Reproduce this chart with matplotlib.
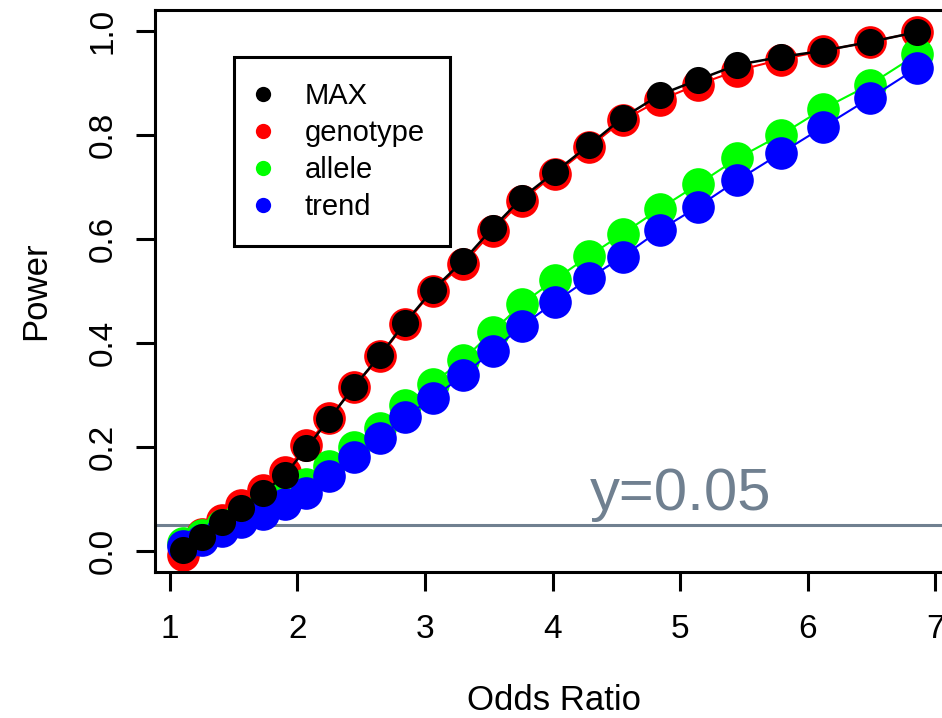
import matplotlib
matplotlib.use("Agg")
import matplotlib.pyplot as plt
from matplotlib.lines import Line2D

plt.rcParams["font.family"] = ["Liberation Sans", "DejaVu Sans"]

# odds ratios (x)
odds_ratio = [1.10, 1.25, 1.41, 1.56, 1.73, 1.90, 2.07, 2.25, 2.44, 2.65,
              2.84, 3.06, 3.30, 3.53, 3.76, 4.02, 4.29, 4.55, 4.84, 5.14,
              5.45, 5.79, 6.12, 6.49, 6.86]

power_max = [0.002, 0.027, 0.056, 0.083, 0.112, 0.146, 0.198, 0.254, 0.315, 0.377,
             0.438, 0.502, 0.558, 0.621, 0.679, 0.729, 0.781, 0.833, 0.877, 0.906,
             0.935, 0.950, 0.962, 0.979, 0.998]
power_genotype = [-0.008, 0.033, 0.060, 0.089, 0.118, 0.152, 0.204, 0.256, 0.315, 0.375,
                  0.436, 0.500, 0.552, 0.615, 0.674, 0.725, 0.777, 0.828, 0.867, 0.897,
                  0.924, 0.945, 0.962, 0.979, 0.998]
power_allele = [0.015, 0.030, 0.050, 0.068, 0.085, 0.105, 0.128, 0.163, 0.200, 0.236,
                0.280, 0.322, 0.368, 0.422, 0.475, 0.522, 0.568, 0.610, 0.658, 0.705,
                0.755, 0.800, 0.850, 0.897, 0.955]
power_trend = [0.010, 0.022, 0.038, 0.055, 0.072, 0.090, 0.112, 0.145, 0.180, 0.217,
               0.258, 0.294, 0.338, 0.385, 0.433, 0.479, 0.525, 0.566, 0.617, 0.662,
               0.713, 0.765, 0.815, 0.871, 0.929]

legend_labels = ["MAX", "genotype", "allele", "trend"]
legend_colors = ["black", "#ff0000", "#00ff00", "#0000ff"]
alpha_level = 0.05

fig = plt.figure(figsize=(9.42, 7.18), dpi=100)
ax = fig.add_axes([155 / 942, 146 / 718, 798 / 942, 562 / 718])

ax.axhline(alpha_level, color="#708090", linewidth=2.2, zorder=1)

big = 23.5
ax.plot(odds_ratio, power_genotype, "-o", color="#ff0000", lw=1.5, ms=big, mew=0, zorder=2)
ax.plot(odds_ratio, power_allele, "-o", color="#00ff00", lw=1.5, ms=big, mew=0, zorder=3)
ax.plot(odds_ratio, power_trend, "-o", color="#0000ff", lw=1.5, ms=big, mew=0, zorder=4)
ax.plot(odds_ratio, power_max, "-o", color="black", lw=1.8, ms=19.5, mew=0, zorder=5)

ax.text(4.29, 0.079, "y=0.05", color="#708090", fontsize=43, ha="left", va="baseline")

ax.set_xlim(0.8824, 7.141)
ax.set_ylim(-0.0404, 1.0404)
ax.set_xticks([1, 2, 3, 4, 5, 6, 7])
ax.set_yticks([0.0, 0.2, 0.4, 0.6, 0.8, 1.0])
ax.set_yticklabels(["0.0", "0.2", "0.4", "0.6", "0.8", "1.0"], rotation=90, va="center")

for s in ax.spines.values():
    s.set_linewidth(2.2)
ax.tick_params(width=2.2, length=14, labelsize=24)
ax.tick_params(axis="x", pad=16)
ax.tick_params(axis="y", pad=12)

ax.set_xlabel("Odds Ratio", fontsize=25, labelpad=28)
ax.set_ylabel("Power", fontsize=25, labelpad=26)

handles = [Line2D([], [], marker="o", linestyle="none", color=c, ms=11, mew=0)
           for c in legend_colors]
leg = ax.legend(handles, legend_labels, loc="upper left",
                bbox_to_anchor=(79 / 798, 1 - 47 / 562), borderaxespad=0,
                fontsize=21, frameon=True, fancybox=False, framealpha=1,
                edgecolor="black", borderpad=0.86, labelspacing=0.31,
                handlelength=0.3, handletextpad=1.25)
leg.get_frame().set_linewidth(2.2)
leg.set_zorder(10)

fig.savefig("out.png", dpi=100)
